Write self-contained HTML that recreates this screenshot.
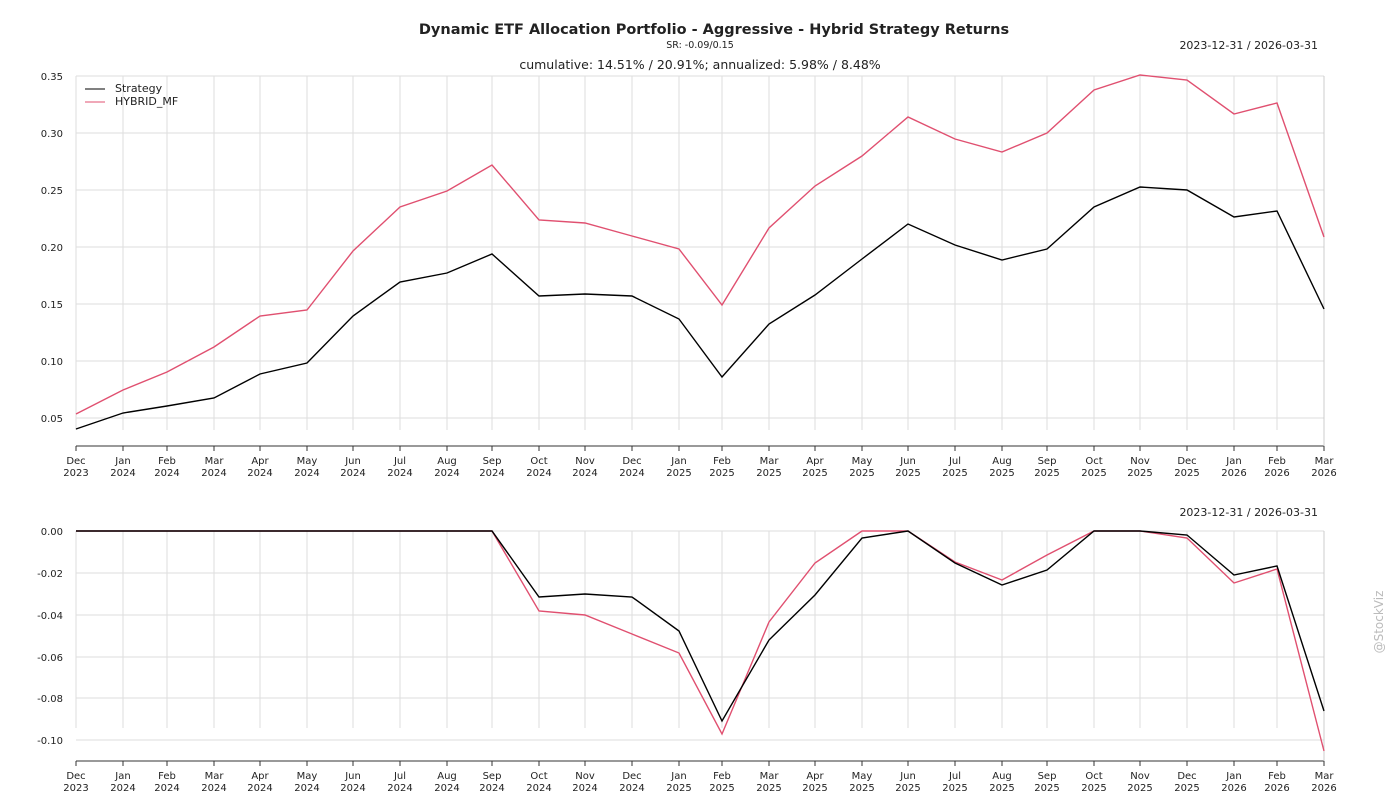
<!DOCTYPE html>
<html><head><style>
body{margin:0;background:#fff;}
svg text{font-family:"DejaVu Sans","Liberation Sans",sans-serif;fill:#222;}
</style></head><body>
<svg width="1400" height="800" xmlns="http://www.w3.org/2000/svg">
<text x="714" y="34" font-size="14.5" font-weight="bold" text-anchor="middle">Dynamic ETF Allocation Portfolio - Aggressive - Hybrid Strategy Returns</text>
<text x="700" y="48" font-size="9.5" text-anchor="middle">SR: -0.09/0.15</text>
<text x="700" y="69" font-size="12.5" text-anchor="middle">cumulative: 14.51% / 20.91%; annualized: 5.98% / 8.48%</text>
<text x="1318" y="49" font-size="11" text-anchor="end">2023-12-31 / 2026-03-31</text>
<text x="1318" y="516" font-size="11" text-anchor="end">2023-12-31 / 2026-03-31</text>
<text x="1383" y="622" font-size="12" fill="#bbb" style="fill:#bbb" text-anchor="middle" transform="rotate(-90 1383 622)">@StockViz</text>
<g id="grid" stroke="#ddd" stroke-width="1"></g>
<g id="labels"></g>
<g id="lines"></g>
<g font-size="11">
<line x1="85" y1="89" x2="105" y2="89" stroke="#000"/><text x="115" y="92">Strategy</text>
<line x1="85" y1="102" x2="105" y2="102" stroke="#e05070"/><text x="115" y="105">HYBRID_MF</text>
</g>
</svg>
<script>
const xs=[76,123,167,214,260,307,353,400,447,492,539,585,632,679,722,769,815,862,908,955,1002,1047,1094,1140,1187,1234,1277,1324];
const mon=["Dec","Jan","Feb","Mar","Apr","May","Jun","Jul","Aug","Sep","Oct","Nov","Dec","Jan","Feb","Mar","Apr","May","Jun","Jul","Aug","Sep","Oct","Nov","Dec","Jan","Feb","Mar"];
const yr=i=>i==0?2023:i<=12?2024:i<=24?2025:2026;
const ns="http://www.w3.org/2000/svg";
const g=document.getElementById('grid'),lb=document.getElementById('labels'),ln=document.getElementById('lines');
function el(p,t,a,txt){const e=document.createElementNS(ns,t);for(k in a)e.setAttribute(k,a[k]);if(txt!==undefined)e.textContent=txt;p.appendChild(e);return e;}
function panel(top,bot,axis,ticks){
 xs.forEach((x,i)=>{el(g,'line',{x1:x,y1:top,x2:x,y2:bot});
  el(lb,'line',{x1:x,y1:axis,x2:x,y2:axis+5,stroke:'#333'});
  el(lb,'text',{x:x,y:axis+18,'font-size':10,'text-anchor':'middle'},mon[i]);
  el(lb,'text',{x:x,y:axis+30,'font-size':10,'text-anchor':'middle'},yr(i));});
 ticks.forEach(([y,t])=>{el(g,'line',{x1:76,y1:y,x2:1324,y2:y});el(lb,'text',{x:63,y:y+4,'font-size':10,'text-anchor':'end'},t);});
 el(lb,'line',{x1:76,y1:axis,x2:1324,y2:axis,stroke:'#333'});
 el(lb,'line',{x1:1324,y1:top,x2:1324,y2:axis,stroke:'#ccc'});
}
panel(76,430,446,[[76,'0.35'],[133,'0.30'],[190,'0.25'],[247,'0.20'],[304,'0.15'],[361,'0.10'],[418,'0.05']]);
panel(531,728,761,[[531,'0.00'],[573,'-0.02'],[615,'-0.04'],[657,'-0.06'],[698,'-0.08'],[740,'-0.10']]);
function line(ys,c){el(ln,'polyline',{points:ys.map((y,i)=>xs[i]+','+y).join(' '),fill:'none',stroke:c,'stroke-width':1.4});}
line([414,390,372,347,316,310,251,207,191,165,220,223,236,249,305,228,186,156,117,139,152,133,90,75,80,114,103,237],'#e05070');
line([429,413,406,398,374,363,316,282,273,254,296,294,296,319,377,324,295,259,224,245,260,249,207,187,190,217,211,309],'#000');
line([531,531,531,531,531,531,531,531,531,531,611,615,634,653,734,622,563,531,531,562,580,555,531,531,538,583,569,751],'#e05070');
line([531,531,531,531,531,531,531,531,531,531,597,594,597,631,721,640,595,538,531,563,585,570,531,531,535,575,566,711],'#000');
</script>
</body></html>
